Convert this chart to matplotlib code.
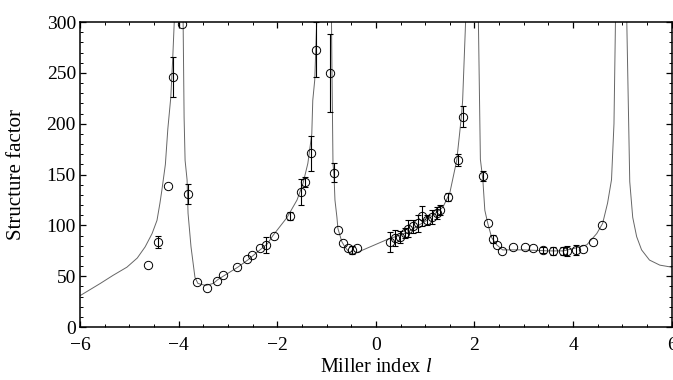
import numpy as np
import matplotlib
matplotlib.use("Agg")
import matplotlib.pyplot as plt
from matplotlib.ticker import MultipleLocator

plt.rcParams['font.family'] = ['Liberation Serif', 'DejaVu Serif']
plt.rcParams['mathtext.fontset'] = 'custom'
plt.rcParams['mathtext.rm'] = 'Liberation Serif'
plt.rcParams['mathtext.it'] = 'Liberation Serif:italic'

# model curve; peak centres go above the axis
curve_l = [-6.00, -5.59, -5.33, -5.05, -4.84, -4.68, -4.54, -4.44, -4.38, -4.34,
           -4.27, -4.22, -4.16, -4.12, -4.09, -4.00, -3.91, -3.89, -3.87, -3.83,
           -3.81, -3.75, -3.67, -3.61, -3.45, -3.30, -3.20, -3.00, -2.80, -2.60,
           -2.40, -2.20, -2.09, -1.80, -1.60, -1.48, -1.38, -1.30, -1.28, -1.24,
           -1.20, -1.05, -0.90, -0.89, -0.87, -0.85, -0.83, -0.79, -0.77, -0.69,
           -0.63, -0.53, -0.45, 0.22, 0.63, 1.03, 1.36, 1.50, 1.64, 1.70,
           1.74, 1.76, 1.82, 1.95, 2.08, 2.12, 2.17, 2.21, 2.27, 2.35,
           2.45, 2.57, 3.00, 3.50, 3.80, 4.07, 4.28, 4.48, 4.60, 4.70,
           4.78, 4.83, 4.86, 4.98, 5.09, 5.15, 5.21, 5.29, 5.39, 5.55,
           5.76, 6.00]
curve_F = [31, 43, 51, 59, 68, 79, 92, 105, 122, 135,
           160, 195, 226, 265, 300, 1000, 300, 206, 164, 145,
           112, 79, 49, 43, 41, 43, 47, 53, 59, 66,
           74, 82, 90, 108, 125, 141, 161, 190, 223, 243,
           300, 1000, 300, 250, 161, 150, 125, 108, 97, 84,
           79, 73, 72, 86, 93, 105, 118, 132, 164, 191,
           210, 223, 300, 1000, 300, 165, 145, 115, 102, 88,
           81, 76, 76, 75, 75, 78, 81, 92, 102, 122,
           145, 200, 300, 1000, 300, 143, 108, 89, 76, 66,
           61, 59]

# measured structure factors
data_l = [-4.62, -4.42, -4.22, -4.11, -3.93, -3.81,
          -3.63, -3.43, -3.22, -3.10, -2.82, -2.61, -2.51, -2.35, -2.23, -2.07,
          -1.74, -1.52, -1.44, -1.32, -1.22, -0.93,
          -0.85, -0.77, -0.67, -0.57, -0.49, -0.39,
          0.28, 0.39, 0.49, 0.59, 0.65, 0.75, 0.85, 0.93, 1.03, 1.14, 1.24, 1.30,
          1.46, 1.66, 1.76,
          2.17, 2.27, 2.37, 2.45, 2.55, 2.78, 3.02, 3.18, 3.39, 3.59, 3.79, 3.87,
          4.05, 4.20, 4.40, 4.58]
data_F = [61, 84, 139, 246, 298, 131,
          44, 39, 45, 51, 59, 67, 71, 78, 81, 90,
          109, 133, 143, 171, 273, 250,
          152, 96, 83, 78, 76, 78,
          84, 88, 89, 93, 97, 99, 102, 109, 105, 108, 112, 115,
          128, 164, 207,
          149, 102, 87, 81, 75, 79, 79, 78, 76, 75, 75, 75,
          76, 77, 84, 100]
data_err = [0, 6, 0, 20, 0, 10,
            0, 0, 0, 0, 0, 0, 0, 0, 8, 0,
            4, 13, 5, 17, 27, 38,
            9, 0, 0, 0, 4, 0,
            10, 8, 6, 5, 8, 6, 8, 10, 5, 7, 6, 5,
            4, 6, 10,
            5, 0, 4, 0, 0, 0, 0, 0, 3, 4, 4, 5,
            5, 0, 0, 0]

fig = plt.figure(figsize=(6.73, 3.80), dpi=100)
ax = fig.add_axes([0.119, 0.139, 0.879, 0.803])

ax.plot(curve_l, curve_F, color='0.4', lw=0.7, zorder=2)

dl = np.array(data_l)
dF = np.array(data_F)
de = np.array(data_err)
m = de > 0
ax.errorbar(dl[m], dF[m], yerr=de[m], fmt='none', ecolor='black',
            elinewidth=0.8, capsize=2.5, capthick=0.8, zorder=3)
ax.plot(dl, dF, linestyle='none', marker='o', markersize=6,
        markerfacecolor='none', markeredgecolor='black', markeredgewidth=0.7,
        zorder=4, clip_on=True)

ax.set_xlim(-6, 6)
ax.set_ylim(0, 300)
ax.xaxis.set_major_locator(MultipleLocator(2))
ax.xaxis.set_minor_locator(MultipleLocator(0.5))
ax.yaxis.set_major_locator(MultipleLocator(50))
ax.yaxis.set_minor_locator(MultipleLocator(10))
ax.tick_params(which='both', direction='in', top=True, right=True,
               labelsize=14, colors='black')
ax.tick_params(axis='x', which='major', pad=7)
ax.tick_params(axis='y', which='major', pad=3)
ax.tick_params(which='major', length=4, width=0.9)
ax.tick_params(which='minor', length=2.2, width=0.7)
for s in ax.spines.values():
    s.set_linewidth(1.1)

ax.set_xlabel('Miller index $l$', fontsize=14.5, labelpad=3)
ax.set_ylabel('Structure factor', fontsize=15, labelpad=15)

fig.savefig('out.png', dpi=100)
